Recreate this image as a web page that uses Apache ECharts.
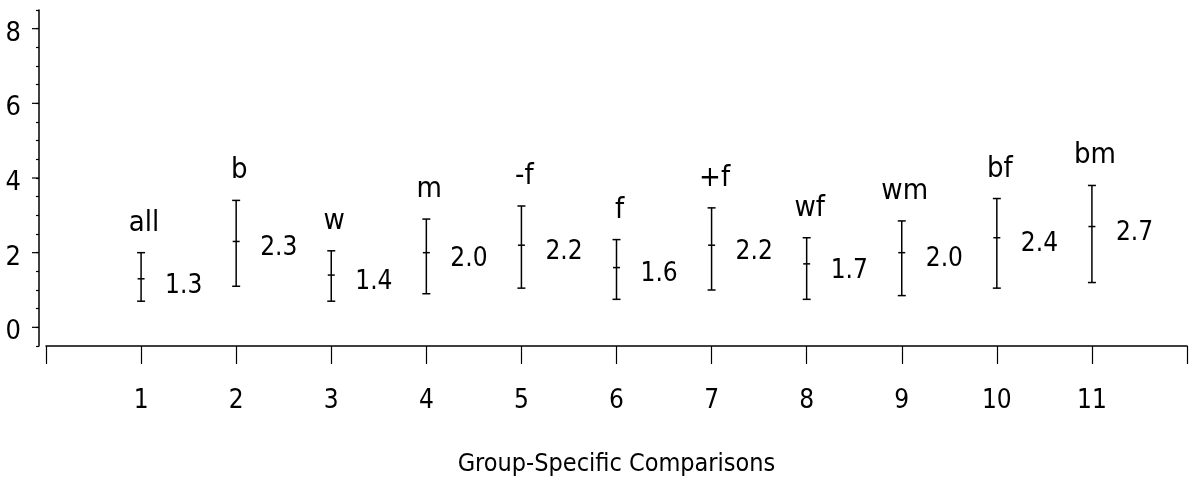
<!DOCTYPE html>
<html>
<head>
<meta charset="utf-8">
<script src="https://cdn.jsdelivr.net/npm/echarts@6/dist/echarts.min.js"></script>
<style>
  html, body { margin: 0; padding: 0; background: #fff; }
  #chart { width: 1193px; height: 483px; }
</style>
</head>
<body>
<div id="chart"></div>
<script>
// Group codes shown above each interval
const groups = ['all', 'b', 'w', 'm', '-f', 'f', '+f', 'wf', 'wm', 'bf', 'bm'];
// Comparison index on the x axis
const positions = [1, 2, 3, 4, 5, 6, 7, 8, 9, 10, 11];
// Point estimates (printed to the right of each interval)
const means = [1.3, 2.3, 1.4, 2.0, 2.2, 1.6, 2.2, 1.7, 2.0, 2.4, 2.7];
// Interval bounds
const lower = [0.7, 1.1, 0.7, 0.9, 1.05, 0.75, 1.0, 0.75, 0.85, 1.05, 1.2];
const upper = [2.0, 3.4, 2.05, 2.9, 3.25, 2.35, 3.2, 2.4, 2.85, 3.45, 3.8];
// Labelled ticks
const xTickLabels = [1, 2, 3, 4, 5, 6, 7, 8, 9, 10, 11];
const yTickLabels = [0, 2, 4, 6, 8];

const FONT = "'DejaVu Sans Condensed', 'Liberation Sans Narrow', 'DejaVu Sans', sans-serif";
const INK = '#000';
const lineStyle = { stroke: INK, lineWidth: 1.5 };

const chart = echarts.init(document.getElementById('chart'), null, { renderer: 'canvas' });

chart.setOption({
  animation: false,
  backgroundColor: '#fff',
  grid: { left: 46, right: 6, top: 10, bottom: 137, containLabel: false },
  xAxis: {
    type: 'value',
    min: 0,
    max: 12,
    interval: 1,
    splitLine: { show: false },
    axisLine: { show: true, onZero: false, lineStyle: { color: INK, width: 1.5 } },
    axisTick: { show: true, inside: false, length: 18, lineStyle: { color: INK, width: 1.2 } },
    axisLabel: {
      color: INK,
      fontFamily: FONT,
      fontSize: 26,
      margin: 42,
      formatter: v => (xTickLabels.indexOf(v) >= 0 ? String(v) : '')
    },
    name: 'Group-Specific Comparisons',
    nameLocation: 'middle',
    nameGap: 106,
    nameTextStyle: { color: INK, fontFamily: FONT, fontSize: 25 }
  },
  yAxis: {
    type: 'value',
    min: -0.5,
    max: 8.5,
    interval: 0.5,
    offset: 7,
    splitLine: { show: false },
    axisLine: { show: true, onZero: false, lineStyle: { color: INK, width: 1.5 } },
    axisTick: { show: true, inside: false, length: 3, lineStyle: { color: INK, width: 1.2 } },
    axisLabel: {
      color: INK,
      fontFamily: FONT,
      fontSize: 27,
      margin: 18,
      verticalAlign: 'top',
      lineHeight: 10,
      formatter: v => (yTickLabels.indexOf(v) >= 0 ? String(v) : '')
    }
  },
  series: [
    {
      // longer ticks at the labelled y values
      type: 'custom',
      coordinateSystem: 'cartesian2d',
      clip: false,
      silent: true,
      data: yTickLabels.map(v => [0, v]),
      encode: { x: 0, y: 1 },
      renderItem: (params, api) => {
        const p = api.coord([api.value(0), api.value(1)]);
        return {
          type: 'line',
          shape: { x1: p[0] - 14, y1: p[1], x2: p[0] - 7, y2: p[1] },
          style: { stroke: INK, lineWidth: 1.2 }
        };
      }
    },
    {
      // interval bars with end caps and a centre tick
      type: 'custom',
      coordinateSystem: 'cartesian2d',
      silent: true,
      data: positions.map((p, i) => [p, lower[i], upper[i], means[i]]),
      encode: { x: 0, y: [1, 2] },
      renderItem: (params, api) => {
        const x = api.value(0);
        const lo = api.coord([x, api.value(1)]);
        const hi = api.coord([x, api.value(2)]);
        const md = api.coord([x, api.value(3)]);
        const cap = 4, tick = 3.5;
        return {
          type: 'group',
          children: [
            { type: 'line', shape: { x1: lo[0], y1: lo[1], x2: hi[0], y2: hi[1] }, style: lineStyle },
            { type: 'line', shape: { x1: lo[0] - cap, y1: lo[1], x2: lo[0] + cap, y2: lo[1] }, style: lineStyle },
            { type: 'line', shape: { x1: hi[0] - cap, y1: hi[1], x2: hi[0] + cap, y2: hi[1] }, style: lineStyle },
            { type: 'line', shape: { x1: md[0] - tick, y1: md[1], x2: md[0] + tick, y2: md[1] }, style: lineStyle }
          ]
        };
      }
    },
    {
      // group codes above the intervals
      type: 'scatter',
      symbolSize: 0,
      silent: true,
      itemStyle: { opacity: 1 },
      data: positions.map((p, i) => ({ value: [p, upper[i]], name: groups[i] })),
      label: {
        show: true,
        position: 'top',
        distance: 15,
        offset: [3, 0],
        formatter: p => p.name,
        color: INK,
        opacity: 1,
        fontFamily: FONT,
        fontSize: 29
      }
    },
    {
      // point estimates printed to the right
      type: 'scatter',
      symbolSize: 0,
      silent: true,
      itemStyle: { opacity: 1 },
      data: positions.map((p, i) => [p, means[i]]),
      label: {
        show: true,
        position: 'right',
        distance: 24,
        offset: [0, 7],
        formatter: p => p.value[1].toFixed(1),
        color: INK,
        opacity: 1,
        fontFamily: FONT,
        fontSize: 26
      }
    }
  ]
});
</script>
</body>
</html>
